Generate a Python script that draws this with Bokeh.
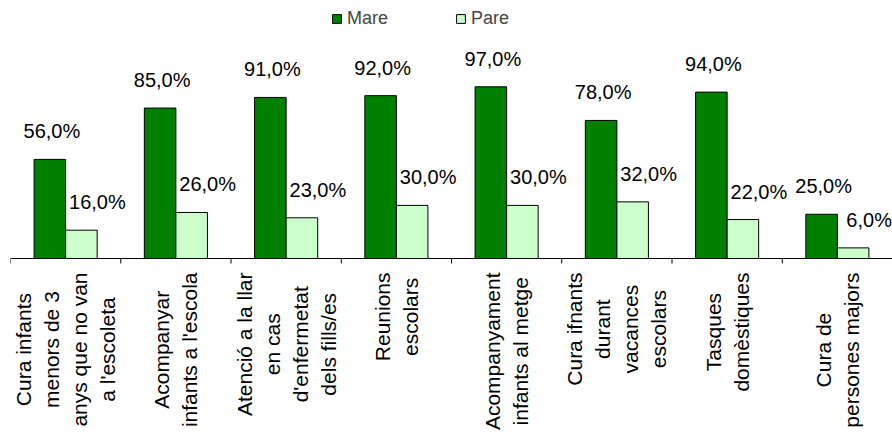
import math
from bokeh.plotting import figure
from bokeh.models import Range1d, ColumnDataSource, Legend, LegendItem
from bokeh.embed import file_html
from bokeh.resources import INLINE
from bokeh.core.properties import value

categories = [
    ["Cura infants", "menors de 3", "anys que no van", "a l'escoleta"],
    ["Acompanyar", "infants a l'escola"],
    ["Atenció a la llar", "en cas", "d'enfermetat", "dels fills/es"],
    ["Reunions", "escolars"],
    ["Acompanyament", "infants al metge"],
    ["Cura ifnants", "durant", "vacances", "escolars"],
    ["Tasques", "domèstiques"],
    ["Cura de", "persones majors"],
]
mare = [56.0, 85.0, 91.0, 92.0, 97.0, 78.0, 94.0, 25.0]
pare = [16.0, 26.0, 23.0, 30.0, 30.0, 32.0, 22.0, 6.0]
series_names = ["Mare", "Pare"]

FONT = "Liberation Sans"
W, H = 892, 436
LEFT = 10
n = len(categories)
bw = 0.286
ppu = 1.77            # pixels per percentage point
zero_px = 258         # axis line, pixels from top
y_end = zero_px / ppu
y_start = -(H - zero_px) / ppu
tick_len = 5 / ppu

# Arial / Liberation Sans advance widths (1/1000 em) for measuring label lines
AW = {" ": 278, "'": 191, "/": 278, "A": 667, "C": 722, "R": 722, "T": 611,
      "a": 556, "c": 500, "d": 556, "e": 556, "f": 278, "g": 556, "i": 222,
      "j": 222, "l": 222, "m": 833, "n": 556, "o": 556, "p": 556, "q": 556,
      "r": 333, "s": 500, "t": 278, "u": 556, "v": 500, "y": 500, "ó": 556,
      "è": 556, "3": 556}
LAB_PX = 21
LINE_GAP = 28
STANDOFF = 14

def text_len(s):
    return sum(AW.get(ch, 556) for ch in s) / 1000 * LAB_PX

p = figure(width=W, height=H, x_range=Range1d(0, n), y_range=Range1d(y_start, y_end),
           output_backend="svg", toolbar_location=None,
           x_axis_location=None, y_axis_location=None,
           min_border_left=LEFT, min_border_right=0, min_border_top=0, min_border_bottom=0)
p.outline_line_color = None
p.xgrid.visible = False
p.ygrid.visible = False
p.background_fill_color = "white"
p.border_fill_color = "white"

centers = [i + 0.5 for i in range(n)]
fmt = lambda v: f"{v:.1f}%".replace(".", ",")
src = ColumnDataSource(dict(
    xm=[c - bw / 2 for c in centers], xp=[c + bw / 2 for c in centers],
    mare=mare, pare=pare,
    lm=[fmt(v) for v in mare], lp=[fmt(v) for v in pare],
))

rm = p.vbar(x="xm", top="mare", width=bw, bottom=0, source=src,
            fill_color="#008000", line_color="black", line_width=1)
rp = p.vbar(x="xp", top="pare", width=bw, bottom=0, source=src,
            fill_color="#CCFFCC", line_color="black", line_width=1)

p.text(x="xm", y="mare", text="lm", source=src, x_offset=2, y_offset=-28,
       text_align="center", text_baseline="middle",
       text_font=value(FONT), text_font_size="20px", text_color="black")
p.text(x="xp", y="pare", text="lp", source=src, x_offset=16, y_offset=-28,
       text_align="center", text_baseline="middle",
       text_font=value(FONT), text_font_size="20px", text_color="black")

# category axis line and boundary ticks
p.segment(x0=[0], y0=[0], x1=[n], y1=[0], line_color="black", line_width=1)
p.segment(x0=list(range(n + 1)), y0=[0] * (n + 1), x1=list(range(n + 1)),
          y1=[-tick_len] * (n + 1), line_color="black", line_width=1)

# rotated, centred multi-line category labels
lx, ly, lt, lo = [], [], [], []
for c, lines in zip(centers, categories):
    m = len(lines)
    maxlen = max(text_len(s) for s in lines)
    yc = -(STANDOFF + maxlen / 2) / ppu
    for j, s in enumerate(lines):
        lx.append(c)
        ly.append(yc)
        lt.append(s)
        lo.append((j - (m - 1) / 2) * LINE_GAP)
lab_src = ColumnDataSource(dict(x=lx, y=ly, t=lt, xo=lo))
p.text(x="x", y="y", text="t", x_offset="xo", source=lab_src,
       angle=math.pi / 2, text_align="center", text_baseline="middle",
       text_font=value(FONT), text_font_size=f"{LAB_PX}px", text_color="black")

legend = Legend(items=[LegendItem(label=series_names[0], renderers=[rm]),
                       LegendItem(label=series_names[1], renderers=[rp])],
                orientation="horizontal", location=(321, H - 29),
                glyph_width=11, glyph_height=11, label_standoff=5, spacing=67,
                padding=0, margin=0, border_line_color=None,
                background_fill_alpha=0,
                label_text_font=FONT, label_text_font_size="18px")
p.add_layout(legend)

open("out.html", "w").write(file_html(p, INLINE))
